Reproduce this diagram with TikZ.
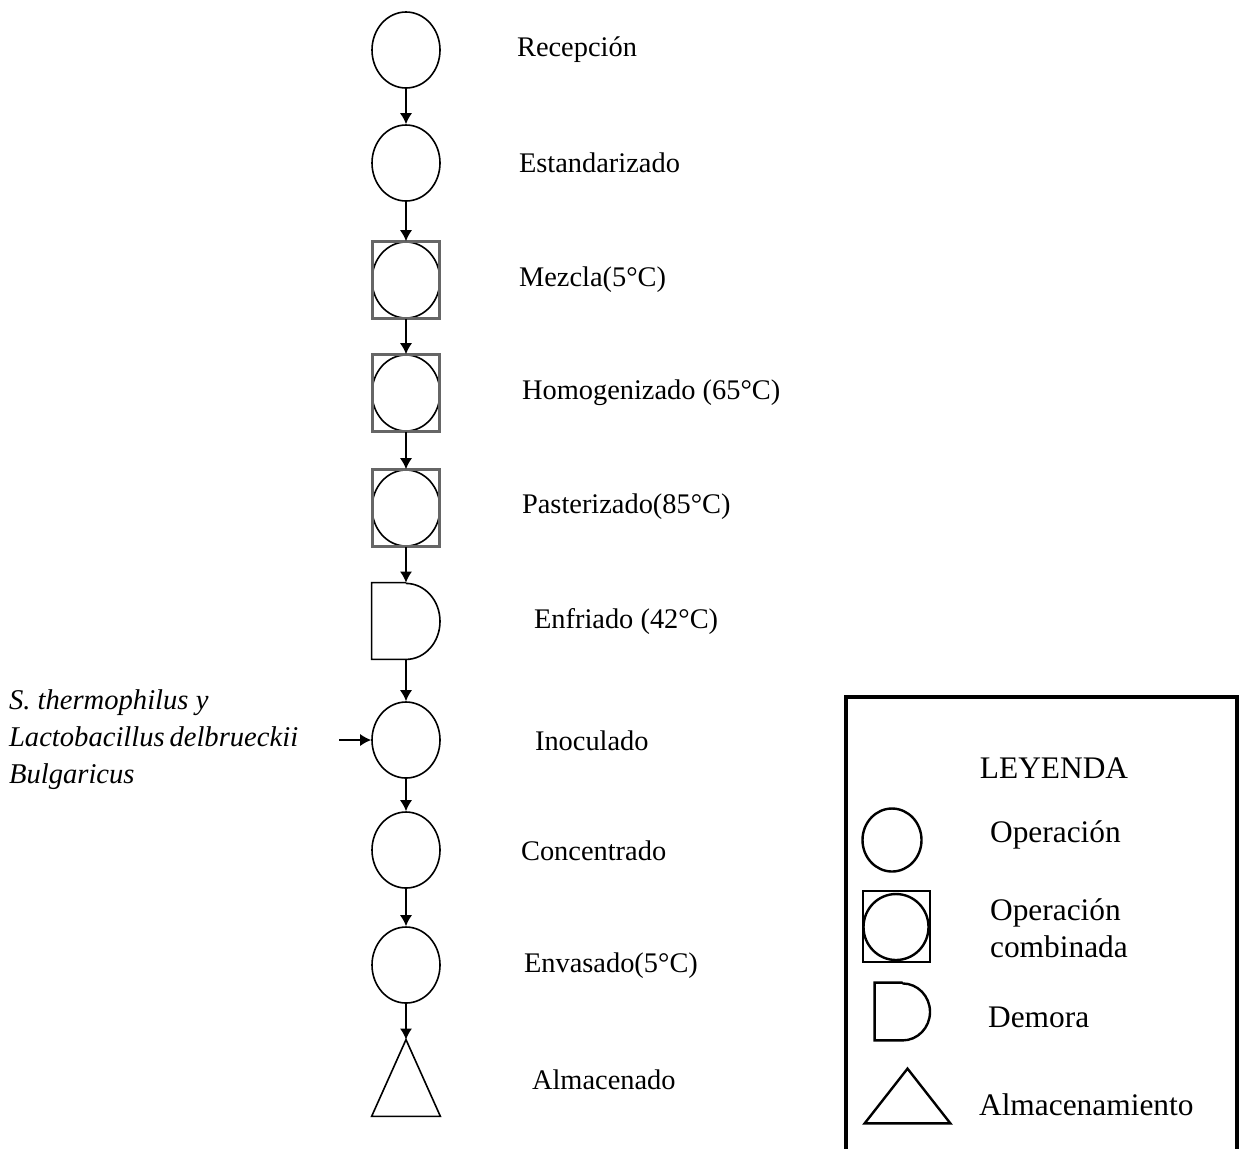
\documentclass[tikz,border=0pt]{standalone}
\usepackage{fontspec}
\setmainfont{Liberation Serif}
\usepackage{tikz}
\usetikzlibrary{shapes.geometric}
\usetikzlibrary{arrows.meta}

\begin{document}
\begin{tikzpicture}[x=0.5pt,y=0.5pt,
    op/.style={draw,ellipse,line width=0.8pt,minimum width=34pt,minimum height=38pt,inner sep=0pt},
    cbox/.style={draw=black!60,line width=1.1pt,minimum width=33.5pt,minimum height=38.5pt,inner sep=0pt},
    blank/.style={minimum width=34pt,minimum height=38pt,inner sep=0pt},
    lbl/.style={anchor=west,font=\fontsize{14.2}{17}\selectfont},
    leg/.style={anchor=west,align=left,font=\fontsize{15.7}{18.5}\selectfont},
    flow/.style={-{Latex[length=5.5pt,width=6pt]},line width=0.7pt}]
    \useasboundingbox (0,0) rectangle (1240,-1148);

    % process chain
    \node[op] (rec) at (406,-50) {};
    \node[op] (est) at (406,-163) {};
    \node[op] (mez) at (406,-280) {};
    \node[cbox] (mezbox) at (406,-280) {};
    \node[op] (hom) at (406,-393) {};
    \node[cbox] (hombox) at (406,-393) {};
    \node[op] (pas) at (406,-508) {};
    \node[cbox] (pasbox) at (406,-508) {};
    \node[blank] (enf) at (406,-621) {};
    \draw[line width=0.8pt] (enf.north) -- (enf.north west) -- (enf.south west) -- (enf.south)
        arc[start angle=-90,end angle=90,x radius=17pt,y radius=19pt];
    \node[op] (ino) at (406,-740) {};
    \node[op] (con) at (406,-850) {};
    \node[op] (env) at (406,-965) {};
    \node[blank] (alm) at (406,-1078) {};
    \draw[line width=0.8pt] (alm.north) -- (alm.south east) -- (alm.south west) -- cycle;

    \foreach \a/\b in {rec/est,est/mez,mez/hom,hom/pas,pas/enf,enf/ino,ino/con,con/env,env/alm}
        \draw[flow] (\a) -- (\b);

    % labels
    \node[lbl] (lrec) at (510,-50) {Recepción};
    \node[lbl] (lest) at (512,-163) {Estandarizado};
    \node[lbl] (lmez) at (512,-280) {Mezcla(5°C)};
    \node[lbl] (lhom) at (515,-393) {Homogenizado (65°C)};
    \node[lbl] (lpas) at (515,-507) {Pasterizado(85°C)};
    \node[lbl] (lenf) at (527,-622) {Enfriado (42°C)};
    \node[lbl] (lino) at (528,-741) {Inoculado};
    \node[lbl] (lcon) at (514,-851) {Concentrado};
    \node[lbl] (lenv) at (517,-966) {Envasado(5°C)};
    \node[lbl] (lalm) at (525,-1080) {Almacenado};

    % cultures in
    \node[anchor=west,align=left,font=\itshape\fontsize{14.3}{18.5}\selectfont] (cult) at (2,-740)
        {S. thermophilus y\\Lactobacillus\,delbrueckii\\Bulgaricus};
    \coordinate (cultin) at (339,-740);
    \draw[flow] (cultin) -- (ino);

    % legend
    \draw[line width=2pt] (846,-1160) -- (846,-697) -- (1237,-697) -- (1237,-1160);
    \node[font=\fontsize{15.7}{18.5}\selectfont] (leyenda) at (1054,-768) {LEYENDA};
    \node[op,line width=1.2pt,minimum width=29.5pt,minimum height=31.5pt] (gop) at (892,-840) {};
    \node[leg] (tgop) at (983,-835) {Operación};
    \node[op,line width=1.2pt,minimum width=32.5pt,minimum height=33pt] (gcomb) at (896,-927) {};
    \node[cbox,draw=black,line width=1.2pt,minimum width=33.5pt,minimum height=35.5pt] (gcombbox) at (896.5,-926.5) {};
    \node[leg] (tgcomb) at (983,-928) {Operación\\combinada};
    \node[blank,minimum width=27.5pt,minimum height=28.5pt] (gdly) at (902.5,-1011.5) {};
    \draw[line width=1.2pt] (gdly.north) -- (gdly.north west) -- (gdly.south west) -- (gdly.south)
        arc[start angle=-90,end angle=90,x radius=13.75pt,y radius=14.25pt];
    \node[leg] (tgdly) at (981,-1017) {Demora};
    \node[blank,minimum width=42.5pt,minimum height=27pt] (galm) at (907.5,-1096) {};
    \draw[line width=1.2pt] (galm.north) -- (galm.south east) -- (galm.south west) -- cycle;
    \node[leg] (tgalm) at (972,-1105) {Almacenamiento};
\end{tikzpicture}
\end{document}
